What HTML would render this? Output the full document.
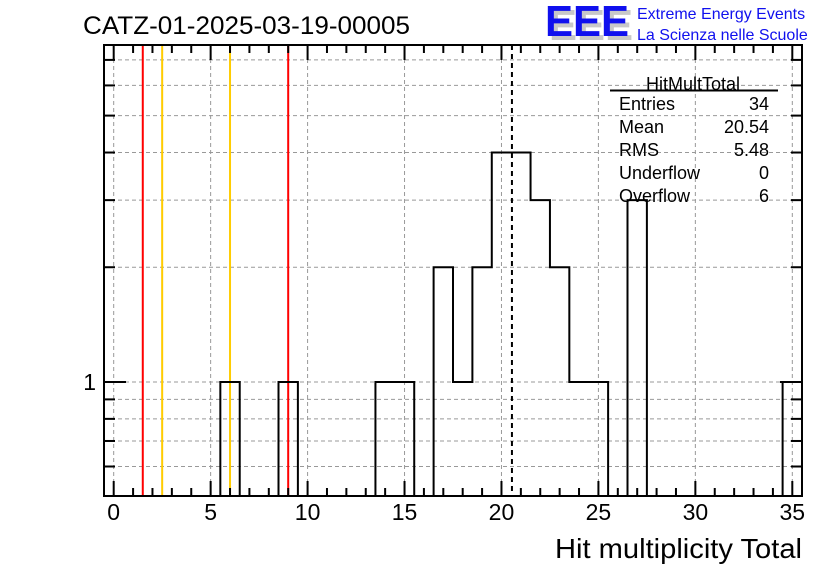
<!DOCTYPE html>
<html><head><meta charset="utf-8"><style>
body{margin:0;background:#fff;}
svg{display:block;font-family:"Liberation Sans",Arial,sans-serif;}
</style></head><body>
<svg id="c" width="836" height="572" viewBox="0 0 836 572">
<g id="grid"></g>
<g id="lines"></g>
<g id="hist"></g>
<g id="axes"></g>
<text x="83" y="34" font-size="25" textLength="327" lengthAdjust="spacingAndGlyphs">CATZ-01-2025-03-19-00005</text>
<g>
<text x="549" y="40" font-size="44" font-weight="bold" fill="#c8c8c8" textLength="84" lengthAdjust="spacingAndGlyphs">EEE</text>
<text x="545" y="36" font-size="44" font-weight="bold" fill="#1010ee" textLength="84" lengthAdjust="spacingAndGlyphs">EEE</text>
<text x="637" y="19" font-size="16" fill="#1010ee">Extreme Energy Events</text>
<text x="637" y="40" font-size="16" fill="#1010ee">La Scienza nelle Scuole</text>
</g>
<g font-size="18">
<text x="693" y="90" text-anchor="middle">HitMultTotal</text>
<line x1="610" y1="90.5" x2="778" y2="90.5" stroke="#000" stroke-width="2"/>
<text x="619" y="110">Entries</text><text x="769" y="110" text-anchor="end">34</text>
<text x="619" y="133">Mean</text><text x="769" y="133" text-anchor="end">20.54</text>
<text x="619" y="156">RMS</text><text x="769" y="156" text-anchor="end">5.48</text>
<text x="619" y="179">Underflow</text><text x="769" y="179" text-anchor="end">0</text>
<text x="619" y="202">Overflow</text><text x="769" y="202" text-anchor="end">6</text>
</g>
<text x="802" y="558" font-size="28" text-anchor="end" textLength="247" lengthAdjust="spacingAndGlyphs">Hit multiplicity Total</text>
</svg>
<script>
const binCenters=[6,9,14,15,17,18,19,20,21,22,23,24,25,27,35];
const binCounts=[1,1,1,1,2,1,2,4,4,3,2,1,1,3,1];
const xTickLabels=[0,5,10,15,20,25,30,35];
const yTickValues=[0.6,0.7,0.8,0.9,1,2,3,4,5,6,7];
const yTickLabels=["1"];
const redLines=[1.5,9.0];
const orangeLines=[2.5,6.0];
const meanValue=20.54;

const L=104,R=802,T=45,B=496;
const XMIN=-0.5,XMAX=35.5,YMIN=0.502,YMAX=7.66;
const X=v=>L+(v-XMIN)/(XMAX-XMIN)*(R-L);
const Y=v=>B-(Math.log10(v)-Math.log10(YMIN))/(Math.log10(YMAX)-Math.log10(YMIN))*(B-T);
const NS="http://www.w3.org/2000/svg";
function mk(p,tag,a){const e=document.createElementNS(NS,tag);for(const k in a)e.setAttribute(k,a[k]);p.appendChild(e);return e;}
const grid=document.getElementById('grid'),axes=document.getElementById('axes'),hist=document.getElementById('hist'),lines=document.getElementById('lines');

xTickLabels.forEach(v=>{const g=mk(grid,'line',{x1:X(v),x2:X(v),y1:T,y2:B,stroke:'#999','stroke-dasharray':'4,3','stroke-width':1});

});
yTickValues.forEach(v=>{const g=mk(grid,'line',{x1:L,x2:R,y1:Y(v),y2:Y(v),stroke:'#999','stroke-dasharray':'4,3','stroke-width':1});

});

redLines.forEach(v=>{const e=mk(lines,'line',{x1:X(v),x2:X(v),y1:T,y2:B,stroke:'#ff0000','stroke-width':2});

});
orangeLines.forEach(v=>{const e=mk(lines,'line',{x1:X(v),x2:X(v),y1:T,y2:B,stroke:'#ffcc00','stroke-width':2});

});
const ml=mk(lines,'line',{x1:X(meanValue),x2:X(meanValue),y1:T,y2:B,stroke:'#000','stroke-width':2,'stroke-dasharray':'5,4'});



const counts={};binCenters.forEach((c,i)=>counts[c]=binCounts[i]);
let d='',prevY=B;d+=`M${X(XMIN)},${B}`;
for(let c=0;c<=35;c++){const n=counts[c]||0;const y=n>0?Y(n):B;const x0=X(c-0.5),x1=X(c+0.5);
 d+=` L${x0},${prevY} L${x0},${y} L${x1},${y}`;prevY=y;}
d+=` L${X(XMAX)},${B}`;
const hp=mk(hist,'path',{d:d,fill:'none',stroke:'#000','stroke-width':2});



const fr=mk(axes,'rect',{x:L,y:T,width:R-L,height:B-T,fill:'none',stroke:'#000','stroke-width':2});


for(let v=0;v<=35;v++){const major=v%5===0;const len=major?15:8;
 mk(axes,'line',{x1:X(v),x2:X(v),y1:B,y2:B-len,stroke:'#000','stroke-width':2});
 mk(axes,'line',{x1:X(v),x2:X(v),y1:T,y2:T+len,stroke:'#000','stroke-width':2});}
xTickLabels.forEach(v=>{const t=mk(axes,'text',{x:X(v),y:520,'font-size':23,'text-anchor':'middle'});t.textContent=v;

});
yTickValues.forEach(v=>{const len=v===1?22:11;
 mk(axes,'line',{x1:L,x2:L+len,y1:Y(v),y2:Y(v),stroke:'#000','stroke-width':2});
 mk(axes,'line',{x1:R,x2:R-len,y1:Y(v),y2:Y(v),stroke:'#000','stroke-width':2});});
yTickLabels.forEach(s=>{const t=mk(axes,'text',{x:96,y:Y(+s)+8,'font-size':23,'text-anchor':'end'});t.textContent=s;

});
</script>
</body></html>
